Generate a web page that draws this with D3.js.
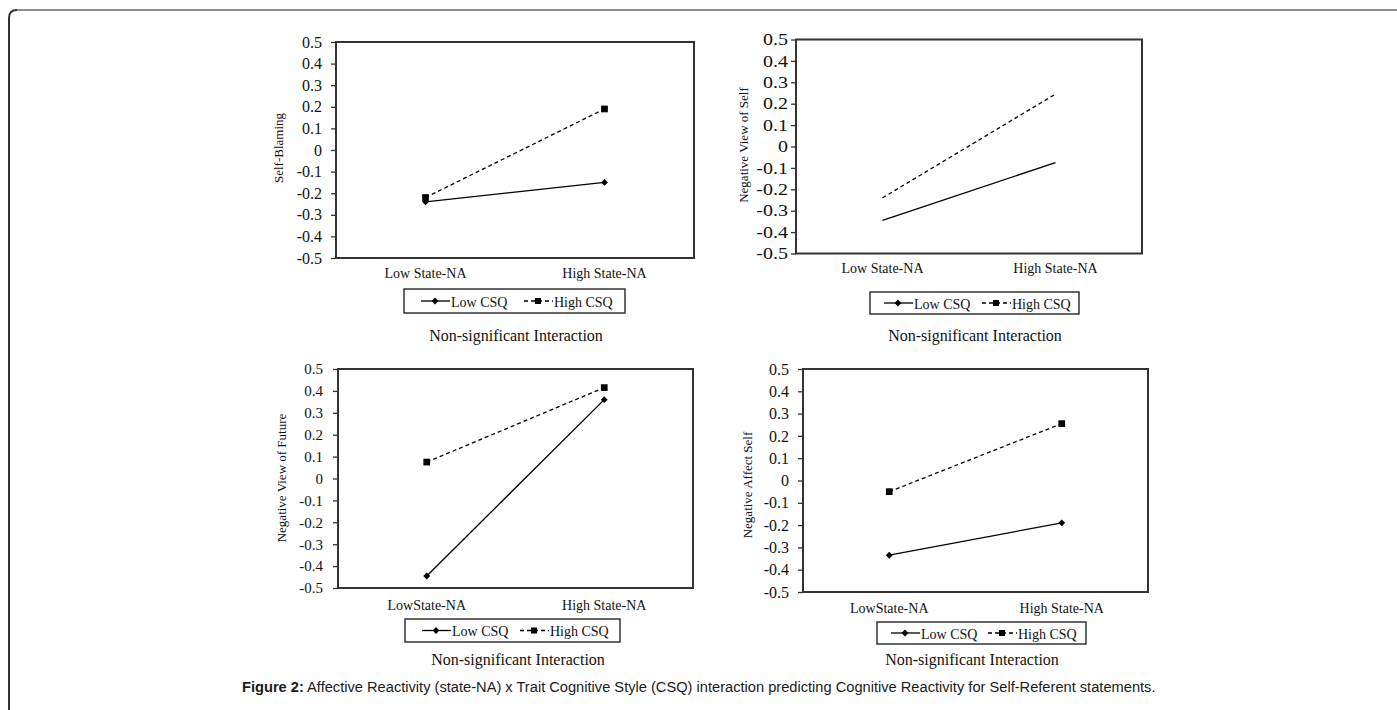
<!DOCTYPE html>
<html>
<head>
<meta charset="utf-8">
<script src="https://cdn.jsdelivr.net/npm/d3@7"></script>
<style>
  html, body { margin: 0; padding: 0; background: #fff; }
  svg { display: block; }
</style>
</head>
<body>
<svg id="chart" width="1397" height="710"></svg>
<script>
// chart values
const yLabels = ['Self-Blaming', 'Negative View of Self', 'Negative View of Future', 'Negative Affect Self'];
const xLabelsTop = ['Low State-NA', 'High State-NA'];
const xLabelsBottom = ['LowState-NA', 'High State-NA'];
const lowCSQ = [[-0.24, -0.15], [-0.345, -0.075], [-0.445, 0.36], [-0.335, -0.19]];
const highCSQ = [[-0.22, 0.19], [-0.24, 0.245], [0.075, 0.415], [-0.05, 0.255]];
const yTicks = [0.5, 0.4, 0.3, 0.2, 0.1, 0, -0.1, -0.2, -0.3, -0.4, -0.5];
const seriesNames = ['Low CSQ', 'High CSQ'];
const noteText = 'Non-significant Interaction';
const captionBold = 'Figure 2:';
const captionText = ' Affective Reactivity (state-NA) x Trait Cognitive Style (CSQ) interaction predicting Cognitive Reactivity for Self-Referent statements.';

// where each panel sits on the page
const panels = [
    {x0: 336, x1: 694, y0: 42, y1: 258, tickFont: 16, tickPad: 9, stretch: 1, yLab: [278, 148], xLabDy: 15, markers: true,
        legend: {x: 404, y: 289, w: 221, h: 24, a: 17, b: 120}, note: [516, 335], xLabels: xLabelsTop},
    {x0: 796, x1: 1142, y0: 39.5, y1: 253.5, tickFont: 16, tickPad: 3, stretch: 1.25, yLab: [743, 145], xLabDy: 14.5, markers: false,
        legend: {x: 870, y: 292, w: 209, h: 22, a: 14, b: 112}, note: [975, 335], xLabels: xLabelsTop},
    {x0: 338, x1: 693, y0: 369, y1: 588, tickFont: 15, tickPad: 10, stretch: 1, yLab: [281, 478], xLabDy: 17, markers: true,
        legend: {x: 405, y: 619, w: 215, h: 23, a: 17, b: 115}, note: [518, 659], xLabels: xLabelsBottom},
    {x0: 803, x1: 1148, y0: 369, y1: 592, tickFont: 16, tickPad: 9, stretch: 1, yLab: [747, 485], xLabDy: 16, markers: true,
        legend: {x: 877, y: 622, w: 209, h: 22, a: 14, b: 111}, note: [972, 659], xLabels: xLabelsBottom}
];

const serif = '"Liberation Serif", "Times New Roman", serif';
const svg = d3.select('#chart');

// page frame: rounded top-left corner
svg.append('path')
    .attr('d', 'M9,710 L9,18 Q9,10 17,10')
    .attr('fill', 'none')
    .attr('stroke', '#333')
    .attr('stroke-width', 2);
svg.append('line')
    .attr('x1', 17).attr('x2', 1397).attr('y1', 10).attr('y2', 10)
    .attr('stroke', '#8c8c8c')
    .attr('stroke-width', 2);

const diamond = d3.symbol().type(d3.symbolDiamond2).size(30);
const square = d3.symbol().type(d3.symbolSquare).size(45);

panels.forEach((p, i) => {
    const g = svg.append('g');
    let x = d3.scalePoint().domain([0, 1]).range([p.x0, p.x1]).padding(0.5);
    let y = d3.scaleLinear().domain([-0.5, 0.5]).range([p.y1, p.y0]);

    // y axis
    const ya = g.append('g')
        .attr('transform', 'translate(' + p.x0 + ',0)')
        .call(d3.axisLeft(y).tickValues(yTicks).tickSize(5).tickSizeOuter(0).tickPadding(p.tickPad)
            .tickFormat(d => d === 0 ? '0' : String(d)));
    ya.select('.domain').remove();
    ya.selectAll('line').attr('stroke', '#333').attr('stroke-width', 1.3);
    ya.selectAll('text')
        .attr('font-family', serif)
        .attr('font-size', p.tickFont)
        .attr('fill', '#111');
    if (p.stretch !== 1) {
        ya.selectAll('text').each(function () {
            const w = this.getComputedTextLength();
            d3.select(this).attr('textLength', w * p.stretch).attr('lengthAdjust', 'spacingAndGlyphs');
        });
    }

    // x labels
    g.selectAll('.xlab')
        .data(p.xLabels)
        .enter().append('text')
        .attr('x', (d, k) => x(k))
        .attr('y', p.y1 + p.xLabDy)
        .attr('dy', '0.35em')
        .attr('text-anchor', 'middle')
        .attr('font-family', serif)
        .attr('font-size', 14)
        .attr('fill', '#111')
        .text(d => d);

    // y title
    g.append('text')
        .attr('transform', 'translate(' + p.yLab[0] + ',' + p.yLab[1] + ')rotate(-90)')
        .attr('dy', '0.35em')
        .attr('text-anchor', 'middle')
        .attr('font-family', serif)
        .attr('font-size', 13)
        .attr('fill', '#111')
        .text(yLabels[i]);

    // lines
    const line = d3.line().x((d, k) => x(k)).y(d => y(d));
    g.append('path')
        .datum(lowCSQ[i])
        .attr('d', line)
        .attr('fill', 'none')
        .attr('stroke', '#000')
        .attr('stroke-width', 1.3);
    g.append('path')
        .datum(highCSQ[i])
        .attr('d', line)
        .attr('fill', 'none')
        .attr('stroke', '#000')
        .attr('stroke-width', 1.3)
        .attr('stroke-dasharray', '4,3');

    if (p.markers) {
        g.selectAll('.mlow')
            .data(lowCSQ[i])
            .enter().append('path')
            .attr('d', diamond)
            .attr('transform', (d, k) => 'translate(' + x(k) + ',' + y(d) + ')')
            .attr('fill', '#000');
        g.selectAll('.mhigh')
            .data(highCSQ[i])
            .enter().append('path')
            .attr('d', square)
            .attr('transform', (d, k) => 'translate(' + x(k) + ',' + y(d) + ')')
            .attr('fill', '#000');
    }

    // plot frame
    g.append('rect')
        .attr('x', p.x0).attr('y', p.y0)
        .attr('width', p.x1 - p.x0).attr('height', p.y1 - p.y0)
        .attr('fill', 'none')
        .attr('stroke', '#333')
        .attr('stroke-width', 2);

    // legend
    const L = p.legend;
    const lg = g.append('g').attr('transform', 'translate(' + L.x + ',' + L.y + ')');
    lg.append('rect')
        .attr('width', L.w).attr('height', L.h)
        .attr('fill', '#fff')
        .attr('stroke', '#333')
        .attr('stroke-width', 1.5);
    const my = L.h / 2;
    [L.a, L.b].forEach((lx, k) => {
        lg.append('line')
            .attr('x1', lx).attr('x2', lx + 29)
            .attr('y1', my).attr('y2', my)
            .attr('stroke', '#000')
            .attr('stroke-width', 1.3)
            .attr('stroke-dasharray', k === 1 ? '4,3' : null);
        lg.append('path')
            .attr('d', k === 0 ? diamond : d3.symbol().type(d3.symbolSquare).size(36))
            .attr('transform', 'translate(' + (lx + 14) + ',' + my + ')')
            .attr('fill', '#000');
        lg.append('text')
            .attr('x', lx + 30)
            .attr('y', my + 1)
            .attr('dy', '0.35em')
            .attr('font-family', serif)
            .attr('font-size', 14)
            .attr('fill', '#111')
            .text(seriesNames[k]);
    });

    // note under legend
    g.append('text')
        .attr('x', p.note[0])
        .attr('y', p.note[1])
        .attr('dy', '0.35em')
        .attr('text-anchor', 'middle')
        .attr('font-family', serif)
        .attr('font-size', 16)
        .attr('fill', '#111')
        .text(noteText);
});

// caption
const cap = svg.append('text')
    .attr('x', 242)
    .attr('y', 687)
    .attr('dy', '0.35em')
    .attr('font-family', '"Liberation Sans", Arial, sans-serif')
    .attr('font-size', 14.65)
    .attr('fill', '#1a1a1a');
cap.append('tspan').attr('font-weight', 'bold').text(captionBold);
cap.append('tspan').text(captionText);
</script>
</body>
</html>
